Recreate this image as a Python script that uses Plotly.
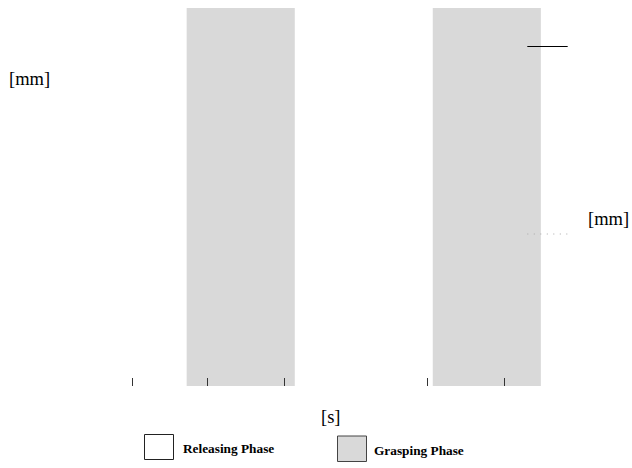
import plotly.graph_objects as go

W, H = 632, 468

# Data (time axis in seconds, arbitrary units)
grasp_start = [1.00, 4.21]
grasp_end = [2.41, 5.62]
tick_vals = [0.29, 1.27, 2.27, 4.14, 5.15]
x_range = [0, 6]

legend_labels = ["Releasing Phase", "Grasping Phase"]
unit_left = "[mm]"
unit_right = "[mm]"
unit_x = "[s]"

GRAY = "#d9d9d9"
FONT = "Liberation Serif"

def px(x):
    return x / W

def py(y):
    return 1 - y / H

fig = go.Figure()
# invisible trace to establish axes
fig.add_trace(go.Scatter(x=x_range, y=[0, 1], mode="markers",
                         marker=dict(opacity=0), hoverinfo="skip",
                         showlegend=False))

shapes = []
for s, e in zip(grasp_start, grasp_end):
    shapes.append(dict(type="rect", xref="x", yref="y domain", x0=s, x1=e,
                       y0=0, y1=1, fillcolor=GRAY, line=dict(width=0),
                       layer="below"))

# legend keys for the line series
shapes.append(dict(type="line", xref="paper", yref="paper",
                   x0=px(527.3), x1=px(567.7), y0=py(46.5), y1=py(46.5),
                   line=dict(color="black", width=1)))
shapes.append(dict(type="line", xref="paper", yref="paper",
                   x0=px(527.3), x1=px(567.7), y0=py(234), y1=py(234),
                   line=dict(color="#aaaaaa", width=1, dash="1px,5.5px")))

# bottom legend boxes
shapes.append(dict(type="rect", xref="paper", yref="paper",
                   x0=px(144.5), x1=px(173.5), y0=py(459.5), y1=py(434.5),
                   fillcolor="white", line=dict(color="#222", width=1)))
shapes.append(dict(type="rect", xref="paper", yref="paper",
                   x0=px(337.5), x1=px(366.5), y0=py(461.5), y1=py(436),
                   fillcolor=GRAY, line=dict(color="#444", width=1)))

annotations = [
    dict(text=unit_left, x=px(29), y=py(79), xref="paper", yref="paper",
         xanchor="center", yanchor="middle", showarrow=False,
         font=dict(family=FONT, size=18.5, color="black")),
    dict(text=unit_right, x=px(608), y=py(218.5), xref="paper", yref="paper",
         xanchor="center", yanchor="middle", showarrow=False,
         font=dict(family=FONT, size=18.5, color="black")),
    dict(text=unit_x, x=px(331), y=py(417), xref="paper", yref="paper",
         xanchor="center", yanchor="middle", showarrow=False,
         font=dict(family=FONT, size=18.5, color="black")),
    dict(text="<b>" + legend_labels[0] + "</b>", x=px(180.5), y=py(448),
         xref="paper", yref="paper", xanchor="left", yanchor="middle",
         showarrow=False, font=dict(family=FONT, size=13.3, color="black")),
    dict(text="<b>" + legend_labels[1] + "</b>", x=px(371.5), y=py(450),
         xref="paper", yref="paper", xanchor="left", yanchor="middle",
         showarrow=False, font=dict(family=FONT, size=13.3, color="black")),
]

fig.update_layout(
    width=W, height=H,
    margin=dict(l=0, r=0, t=0, b=0),
    paper_bgcolor="white", plot_bgcolor="white",
    showlegend=False,
    hovermode=False,
    shapes=shapes,
    annotations=annotations,
    xaxis=dict(domain=[px(110), px(570)], range=x_range,
               showgrid=False, zeroline=False, showline=False,
               tickmode="array", tickvals=tick_vals, ticks="inside",
               ticklen=8, tickwidth=1, tickcolor="#333",
               showticklabels=False, fixedrange=True),
    yaxis=dict(domain=[py(386), py(8)], range=[0, 1],
               visible=False, fixedrange=True),
)

fig.write_html(
    "out.html",
    config={"displayModeBar": False},
    post_script="document.body.style.margin='0';"
                "document.documentElement.style.overflow='hidden';",
)
